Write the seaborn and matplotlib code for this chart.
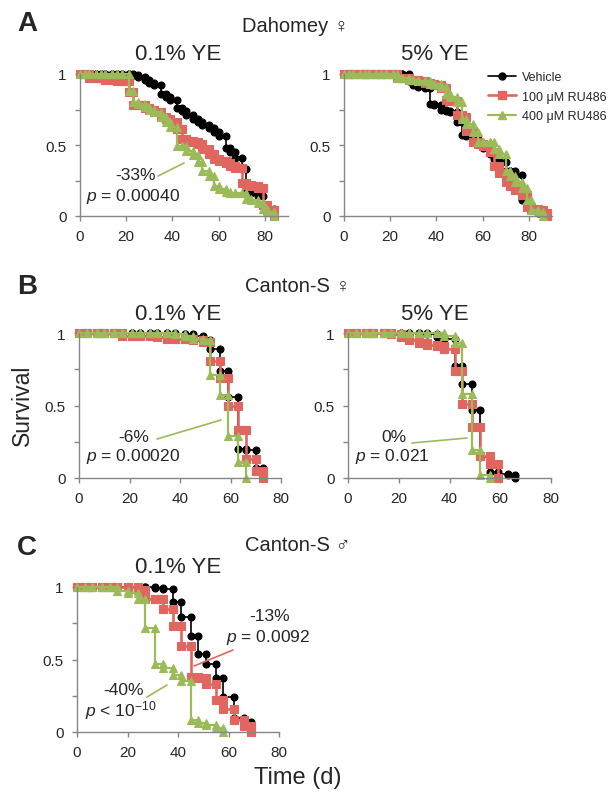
import matplotlib
matplotlib.use('Agg')
import matplotlib.pyplot as plt
import seaborn as sns
import pandas as pd
from matplotlib.lines import Line2D

sns.set_style('ticks')
plt.rcParams['font.family'] = ['Liberation Sans', 'DejaVu Sans']
plt.rcParams['mathtext.fontset'] = 'custom'
plt.rcParams['mathtext.rm'] = 'Liberation Sans'
plt.rcParams['mathtext.it'] = 'Liberation Sans:italic'

BLACK = '#000000'
RED = '#E0665F'
GREEN = '#9BBB59'
AXIS_GREY = '#868686'

# census days
days_dah = [0, 2, 4, 7, 9, 11, 14, 16, 18, 21, 23, 25, 28, 30, 32, 35, 37, 39, 42, 44,
            46, 49, 51, 53, 56, 58, 60, 63, 65, 67, 70, 72, 74, 77, 79, 81, 84, 86, 88]
days_cs_f = [0, 3, 7, 10, 14, 17, 21, 24, 28, 31, 35, 38, 42, 45, 49, 52, 56, 59, 63, 66, 70, 73]
days_cs_m = [0, 3, 6, 10, 13, 16, 20, 24, 27, 31, 34, 38, 41, 45, 48, 51, 55, 58, 62, 66, 69]

# A: Dahomey females, 0.1% YE
dah_low_vehicle = [1, 1, 1, 1, 1, 1, 1, 1, 1, 1, 0.99, 0.98, 0.96, 0.94, 0.92, 0.86, 0.84, 0.82, 0.76, 0.74,
                   0.71, 0.68, 0.66, 0.64, 0.62, 0.59, 0.56, 0.48, 0.45, 0.41, 0.33, 0.18, 0.16, 0.14, 0.08, 0.05, 0.0]
dah_low_ru100 = [1, 1, 0.97, 0.97, 0.97, 0.96, 0.96, 0.95, 0.95, 0.87, 0.78, 0.78, 0.76, 0.75, 0.73, 0.70, 0.68, 0.66, 0.61, 0.54,
                 0.53, 0.52, 0.51, 0.47, 0.44, 0.40, 0.39, 0.37, 0.35, 0.34, 0.23, 0.22, 0.21, 0.20, 0.08, 0.04, 0.0]
dah_low_ru400 = [1, 1, 1, 1, 1, 1, 1, 1, 1, 0.88, 0.80, 0.79, 0.77, 0.75, 0.73, 0.70, 0.66, 0.63, 0.49, 0.49,
                 0.46, 0.43, 0.38, 0.32, 0.28, 0.21, 0.19, 0.17, 0.16, 0.16, 0.16, 0.12, 0.11, 0.09, 0.05, 0.03, 0.0]
# A: Dahomey females, 5% YE
dah_high_vehicle = [1, 1, 1, 1, 1, 1, 1, 1, 1, 1, 1, 1, 0.95, 0.92, 0.91, 0.90, 0.79, 0.78, 0.75, 0.74,
                    0.73, 0.66, 0.57, 0.56, 0.54, 0.51, 0.48, 0.44, 0.40, 0.38, 0.32, 0.32, 0.29, 0.11, 0.08, 0.05, 0.02, 0.0]
dah_high_ru100 = [1, 1, 1, 1, 1, 1, 1, 1, 1, 1, 0.97, 0.97, 0.96, 0.96, 0.95, 0.94, 0.93, 0.92, 0.90, 0.82,
                  0.81, 0.71, 0.70, 0.60, 0.52, 0.51, 0.49, 0.45, 0.35, 0.30, 0.24, 0.21, 0.18, 0.15, 0.06, 0.05, 0.04, 0.02, 0.0]
dah_high_ru400 = [1, 1, 1, 1, 1, 1, 1, 1, 1, 1, 0.97, 0.97, 0.96, 0.96, 0.95, 0.95, 0.93, 0.93, 0.91, 0.86,
                  0.84, 0.80, 0.68, 0.65, 0.59, 0.52, 0.52, 0.52, 0.47, 0.44, 0.32, 0.28, 0.24, 0.20, 0.11, 0.04, 0.03, 0.0]
# B: Canton-S females
csf_low_vehicle = [1, 1, 1, 1, 1, 1, 1, 1, 1, 1, 1, 0.99, 0.99, 0.98, 0.95, 0.89, 0.74, 0.56, 0.20, 0.19, 0.07, 0.0]
csf_low_ru100 = [1, 1, 1, 1, 1, 0.98, 0.98, 0.98, 0.98, 0.97, 0.96, 0.96, 0.96, 0.95, 0.94, 0.81, 0.69, 0.50, 0.33, 0.13, 0.05, 0.0]
csf_low_ru400 = [1, 1, 1, 1, 1, 1, 1, 1, 1, 1, 1, 0.99, 0.98, 0.96, 0.95, 0.71, 0.57, 0.29, 0.11, 0.0]
csf_high_vehicle = [1, 1, 1, 1, 1, 1, 1, 1, 1, 0.99, 0.97, 0.96, 0.77, 0.65, 0.47, 0.145, 0.04, 0.03, 0.02, 0.0]
csf_high_ru100 = [1, 1, 1, 1, 1, 0.99, 0.97, 0.95, 0.93, 0.92, 0.91, 0.89, 0.74, 0.51, 0.35, 0.15, 0.10, 0.0]
csf_high_ru400 = [1, 1, 1, 1, 1, 1, 1, 1, 1, 1, 1, 0.98, 0.93, 0.58, 0.19, 0.02, 0.0]
# C: Canton-S males
csm_low_vehicle = [1, 1, 1, 1, 1, 1, 1, 1, 1, 0.99, 0.985, 0.90, 0.79, 0.665, 0.54, 0.47, 0.37, 0.24, 0.10, 0.07, 0.03]
csm_low_ru100 = [1, 1, 1, 1, 1, 1, 1, 0.98, 0.92, 0.92, 0.85, 0.73, 0.59, 0.38, 0.37, 0.33, 0.22, 0.16, 0.08, 0.04, 0.0]
csm_low_ru400 = [1, 1, 1, 1, 1, 0.97, 0.96, 0.92, 0.72, 0.47, 0.44, 0.39, 0.35, 0.08, 0.06, 0.05, 0.03, 0.0]

series_labels = ['Vehicle', '100 μM RU486', '400 μM RU486']
series_style = [(BLACK, 'o', 5.0, 1.2), (RED, 's', 5.8, 1.9), (GREEN, '^', 6.0, 1.6)]


def step_frame(days, surv):
    '''Vertices of a Kaplan-Meier style step curve, a marker at both corners.'''
    xs, ys = [days[0]], [surv[0]]
    for i in range(1, len(surv)):
        xs += [days[i], days[i]]
        ys += [surv[i - 1], surv[i]]
    return pd.DataFrame({'day': xs, 'survival': ys})


def draw_panel(ax, days, curves, xmax):
    for surv, (col, mk, ms, lw) in zip(curves, series_style):
        df = step_frame(days, surv)
        sns.lineplot(data=df, x='day', y='survival', ax=ax, sort=False, estimator=None,
                     color=col, marker=mk, markersize=ms, mec=col, mfc=col, mew=0.8,
                     lw=lw, clip_on=False)
    ax.set_xlim(0, xmax)
    ax.set_ylim(0, 1)
    ax.set_xticks([0, 20, 40, 60, 80])
    ax.set_yticks([0, 0.5, 1])
    ax.set_yticklabels(['0', '0.5', '1'])
    ax.set_yticks([0.25, 0.75], minor=True)
    sns.despine(ax=ax)
    for s in ['left', 'bottom']:
        ax.spines[s].set_color(AXIS_GREY)
        ax.spines[s].set_linewidth(1.0)
    ax.tick_params(which='both', color=AXIS_GREY, length=3.5, width=1.0,
                   labelsize=11, pad=6)
    ax.set_xlabel('')
    ax.set_ylabel('')


W, H = 616, 804
fig = plt.figure(figsize=(W / 100, H / 100), dpi=100)


def px_axes(x0, y0, x1, y1):
    return fig.add_axes([x0 / W, 1 - y1 / H, (x1 - x0) / W, (y1 - y0) / H])


def ftext(x, y, s, **kw):
    fig.text(x / W, 1 - y / H, s, ha='center', va='center', **kw)


def fline(x0, y0, x1, y1, col):
    fig.add_artist(Line2D([x0 / W, x1 / W], [1 - y0 / H, 1 - y1 / H], color=col, lw=1.2))


ax_a1 = px_axes(80, 75, 288, 217)
ax_a2 = px_axes(344, 75, 552, 217)
ax_b1 = px_axes(79, 334, 281, 479)
ax_b2 = px_axes(348, 334, 551, 479)
ax_c1 = px_axes(77, 588, 279, 733)

draw_panel(ax_a1, days_dah, [dah_low_vehicle, dah_low_ru100, dah_low_ru400], 90)
draw_panel(ax_a2, days_dah, [dah_high_vehicle, dah_high_ru100, dah_high_ru400], 90)
draw_panel(ax_b1, days_cs_f, [csf_low_vehicle, csf_low_ru100, csf_low_ru400], 80)
draw_panel(ax_b2, days_cs_f, [csf_high_vehicle, csf_high_ru100, csf_high_ru400], 80)
draw_panel(ax_c1, days_cs_m, [csm_low_vehicle, csm_low_ru100, csm_low_ru400], 80)

# legend
handles = [Line2D([], [], color=c, marker=m, markersize=ms, lw=lw, mec=c)
           for c, m, ms, lw in series_style]
fig.legend(handles, series_labels, loc='upper left', bbox_to_anchor=(488 / W, 1 - 72 / H),
           frameon=False, fontsize=9, handlelength=2.2, handletextpad=0.5,
           labelspacing=0.6, borderpad=0, borderaxespad=0)

# panel letters, group and condition titles
for letter, y in [('A', 24), ('B', 287), ('C', 548)]:
    ftext(27, y, letter, fontsize=20, fontweight='bold')
ftext(296, 26, 'Dahomey ♀', fontsize=14.5)
ftext(298, 287, 'Canton-S ♀', fontsize=14.5)
ftext(298, 546, 'Canton-S ♂', fontsize=14.5)
ftext(178, 55, '0.1% YE', fontsize=16)
ftext(435, 55, '5% YE', fontsize=16)
ftext(178, 315, '0.1% YE', fontsize=16)
ftext(435, 315, '5% YE', fontsize=16)
ftext(178, 568, '0.1% YE', fontsize=16)

ftext(22, 405, 'Survival', fontsize=16.5, rotation=90)
ftext(298, 778, 'Time (d)', fontsize=17)

# annotations
ftext(136, 175, '-33%', fontsize=12.5)
ftext(133, 196, '$p$ = 0.00040', fontsize=12.5)
fline(158, 177, 184, 164, GREEN)

ftext(134, 438, '-6%', fontsize=12.5)
ftext(133, 457, '$p$ = 0.00020', fontsize=12.5)
fline(157, 440, 221, 421, GREEN)

ftext(394, 438, '0%', fontsize=12.5)
ftext(392, 457, '$p$ = 0.021', fontsize=12.5)
fline(412, 444, 467, 439, GREEN)

ftext(270, 617, '-13%', fontsize=12.5)
ftext(268, 638, '$p$ = 0.0092', fontsize=12.5)
fline(194, 667, 233, 651, RED)

ftext(123, 691, '-40%', fontsize=12.5)
ftext(121, 711, '$p$ < 10$^{-10}$', fontsize=12.5)
fline(147, 698, 167, 686, GREEN)

fig.savefig('out.png', dpi=100)
